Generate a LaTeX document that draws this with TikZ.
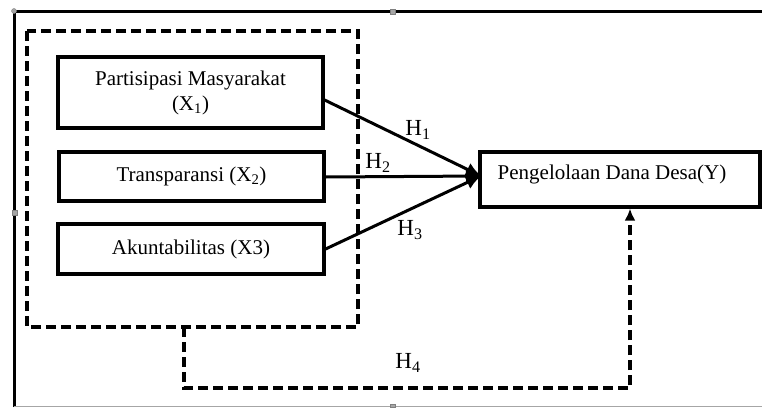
\documentclass[tikz,border=0pt]{standalone}
\usepackage{fontspec}
\setmainfont{Liberation Serif}
\usetikzlibrary{arrows.meta}
\begin{document}
\begin{tikzpicture}[x=1pt,y=-1pt,
  varbox/.style={draw,line width=3.2pt,minimum height=#1,inner sep=0pt,font=\fontsize{21}{25}\selectfont,align=center},
  hlabel/.style={font=\fontsize{23}{26}\selectfont,inner sep=0pt},
  link/.style={line width=3pt,-{Latex[length=15pt,width=14pt]}},
  grouped/.style={draw,line width=3.2pt,dash pattern=on 10pt off 5pt},
  handle/.style={fill=gray!70,draw=gray,line width=0.4pt}]
\useasboundingbox (0,0) rectangle (762,407);
% frame
\draw[line width=3pt] (14,407) -- (14,11) -- (762,11);
\draw[gray!70,line width=1pt] (14,406) -- (762,406);
% grouping box
\draw[grouped] (27,31) rectangle (358,327);
% variables
\node[varbox=71pt,minimum width=265pt] (x1) at (190.5,92.5) {Partisipasi Masyarakat\\(X\textsubscript{1})};
\node[varbox=49pt,minimum width=265pt] (x2) at (191.5,176.5) {Transparansi (X\textsubscript{2})};
\node[varbox=50pt,minimum width=266pt] (x3) at (191,249) {Akuntabilitas (X3)};
\node[varbox=55pt,minimum width=280pt] (yv) at (620,179.5) {};
\node[font=\fontsize{21}{25}\selectfont,inner sep=0pt] (ytext) at (612,174) {Pengelolaan Dana Desa(Y)};
\coordinate (tip) at (481,176);
% direct effects
\draw[link] (x1.east |- 0,100) -- (tip);
\draw[link] (x2.east |- 0,177) -- (tip);
\draw[link] (x3.east) -- (tip);
\node[hlabel] (h1) at (418,130) {H\textsubscript{1}};
\node[hlabel] (h2) at (378,163) {H\textsubscript{2}};
\node[hlabel] (h3) at (410,230) {H\textsubscript{3}};
% joint effect
\coordinate (g) at (184,327);
\coordinate (corner) at (630,388);
\draw[grouped,-{Latex[length=12pt,width=11pt]}] (g) -- (184,388) -- (corner) -- (corner |- yv.south);
\node[hlabel] (h4) at (408,363) {H\textsubscript{4}};
% selection handles
\filldraw[handle] (14,11) circle (2.5pt);
\filldraw[handle] (390,9) rectangle (395,14);
\filldraw[handle] (12,210) rectangle (17,215);
\filldraw[handle] (390,404) rectangle (395,407);
\end{tikzpicture}
\end{document}
